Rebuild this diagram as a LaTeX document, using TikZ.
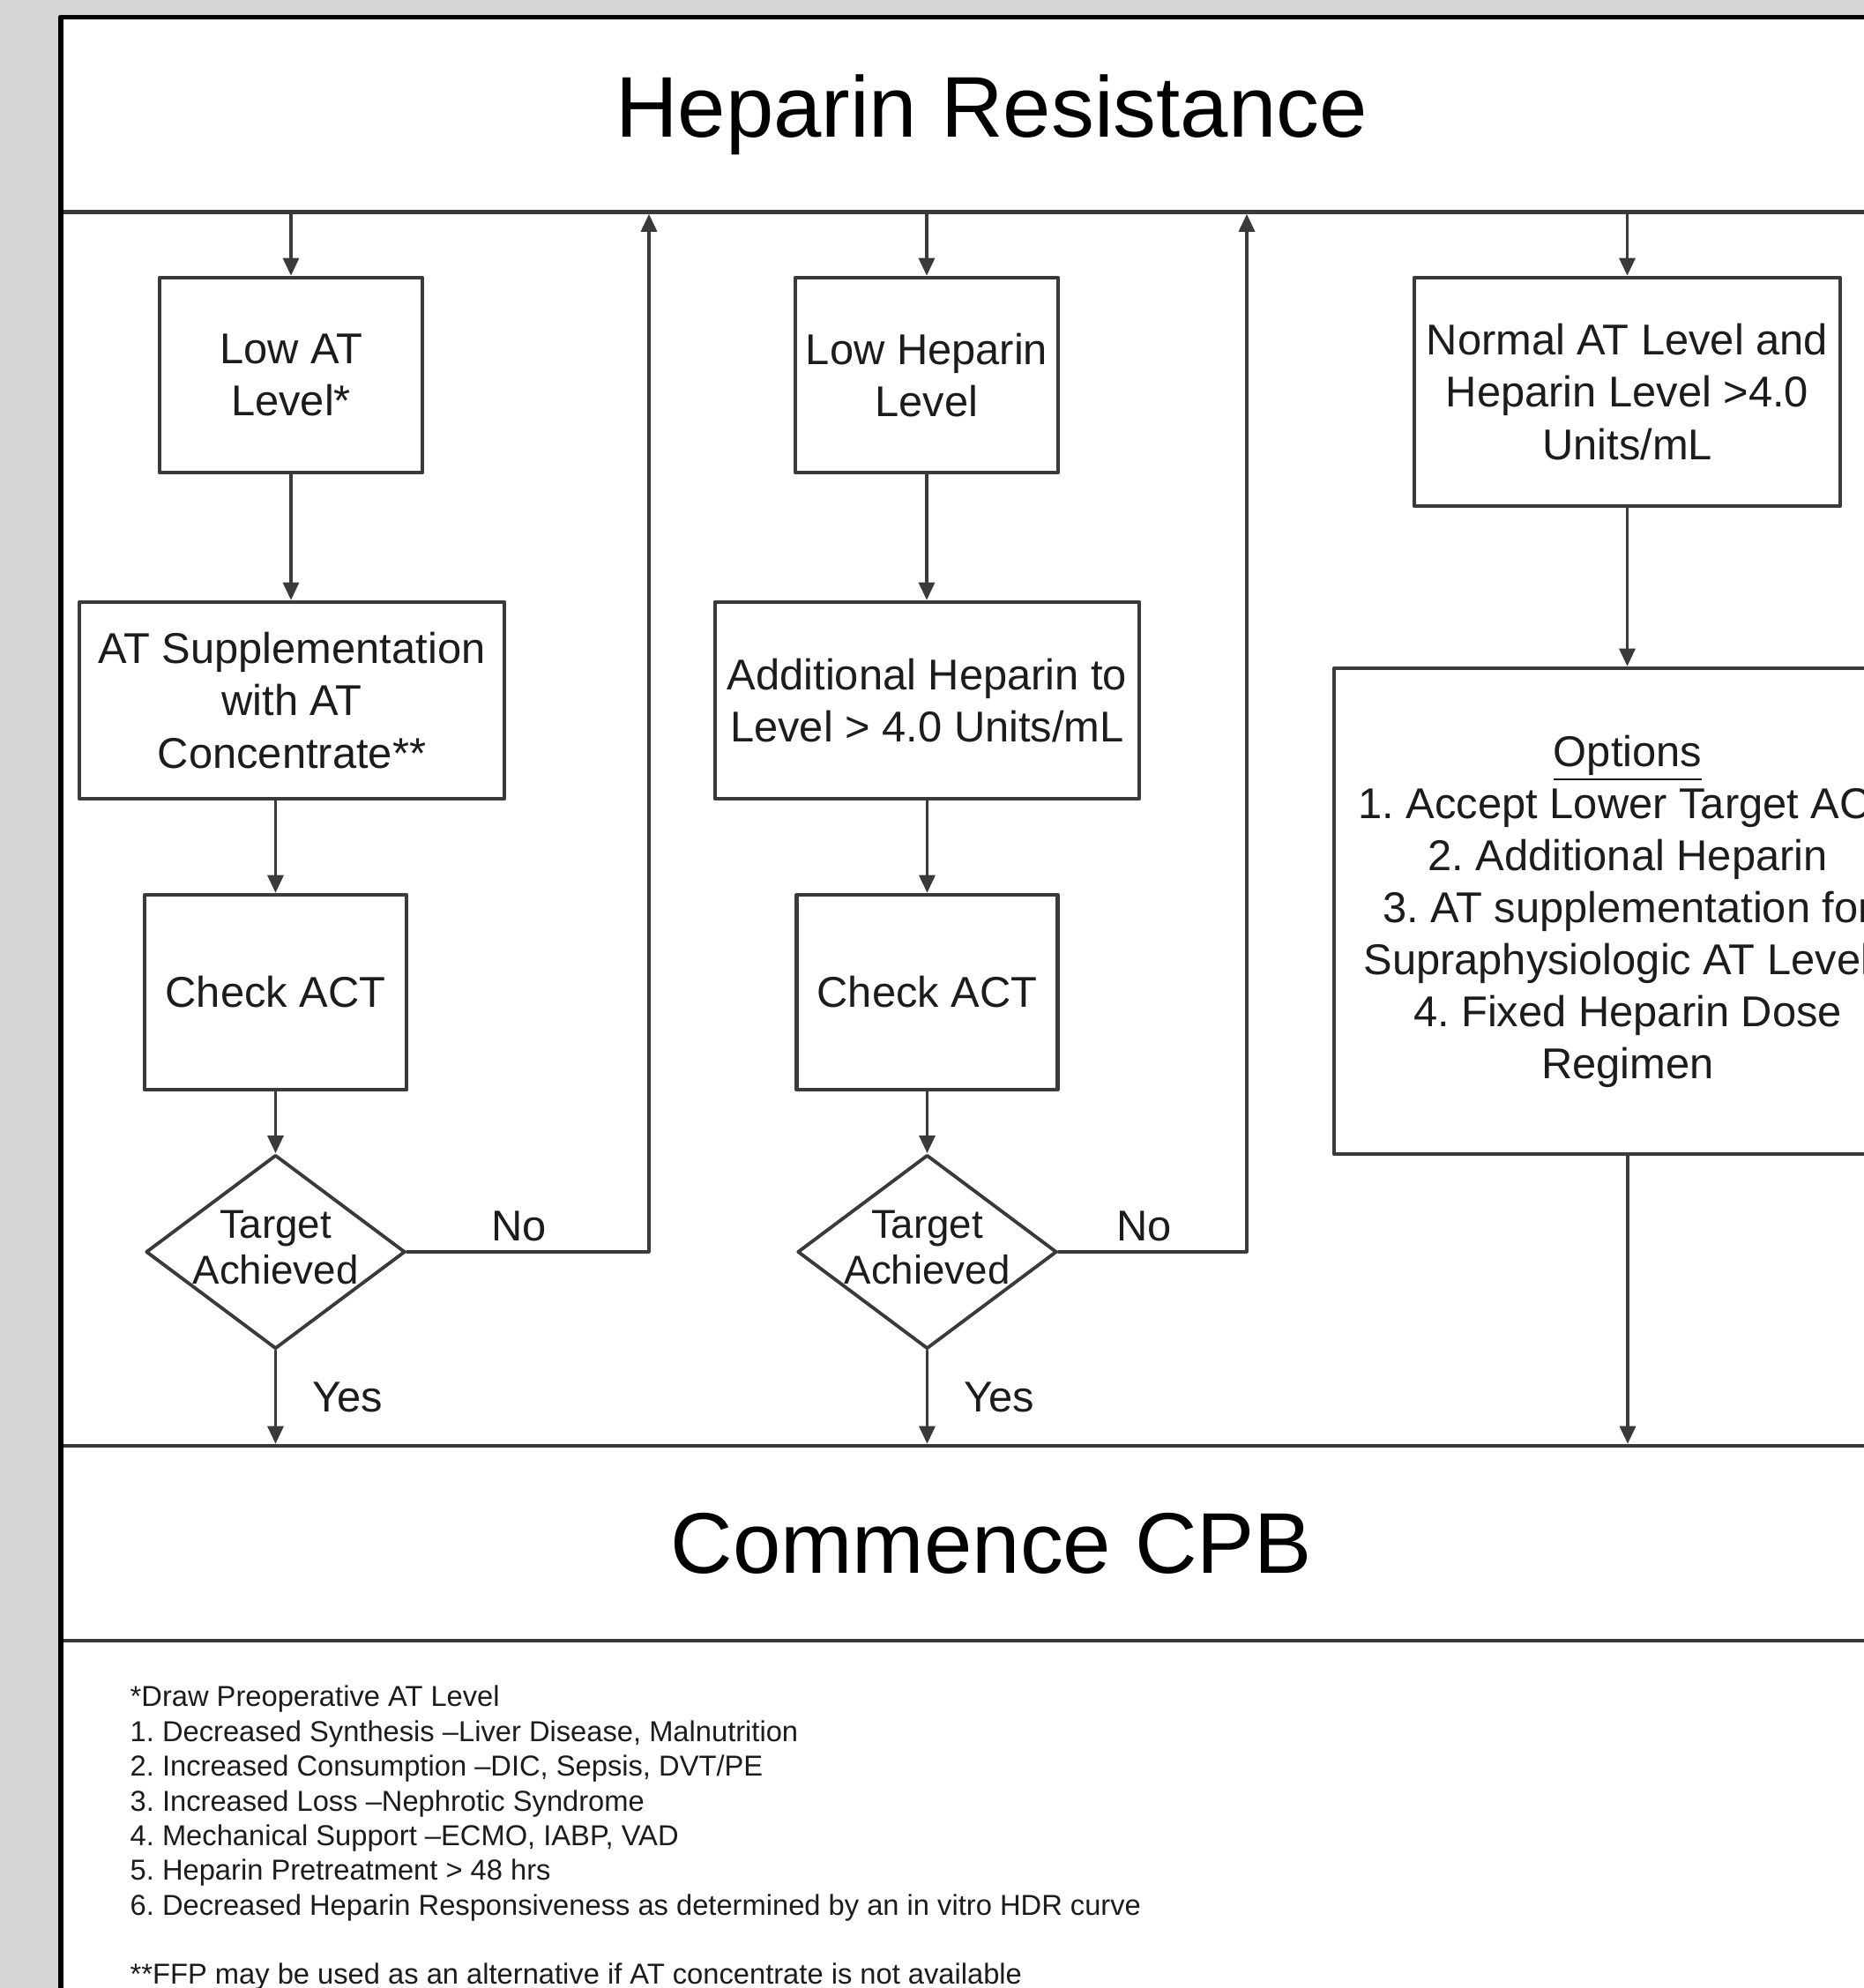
\documentclass[tikz,border=0pt]{standalone}
\usepackage{fontspec}
\setmainfont{Liberation Sans}
\usetikzlibrary{shapes.geometric,arrows.meta,positioning}
\definecolor{bggray}{RGB}{214,214,214}
\definecolor{linegray}{RGB}{58,58,58}
\definecolor{inkgray}{RGB}{28,28,28}
\frenchspacing
\tikzset{
  box/.style={draw=linegray,line width=1.3pt,align=center,inner sep=1pt,text=inkgray,
    font=\fontsize{13.9pt}{16.8pt}\selectfont},
  banner/.style={draw=linegray,line width=1.3pt,minimum width=21.13cm,minimum height=2.21cm,
    text=black,font=\fontsize{27.8pt}{33pt}\selectfont},
  decision/.style={diamond,draw=linegray,line width=1.1pt,inner sep=0pt,
    minimum width=2.94cm,minimum height=2.20cm},
  asktext/.style={align=center,inner sep=0pt,text=inkgray,font=\fontsize{13pt}{14.8pt}\selectfont},
  answer/.style={inner sep=3pt,text=inkgray,font=\fontsize{13.9pt}{16.8pt}\selectfont},
  notes/.style={align=left,inner sep=0pt,text=inkgray,font=\fontsize{9.3pt}{11.2pt}\selectfont},
  link/.style={draw=linegray,line width=0.9pt,->}
}
\begin{document}
\begin{tikzpicture}[line join=round,line cap=round,>={Triangle[length=0.2cm,width=0.18cm]}]
  \useasboundingbox (0,0) rectangle (21.14,-22.55);
  \clip (0,0) rectangle (21.14,-22.55);
  \fill[bggray] (0,0) rectangle (21.14,-22.55);
  \fill[white] (0.69,-0.195) rectangle (21.81,-23);
  \node[banner] (header) at (11.245,-1.30) {Heparin Resistance};
  \node[banner] (cpb) at (11.245,-17.505) {Commence CPB};
  \node[box,minimum width=2.98cm,minimum height=2.21cm] (lowat) at (3.30,-4.255) {Low AT\\Level*};
  \node[box,minimum width=2.98cm,minimum height=2.21cm] (lowhep) at (10.51,-4.255) {Low Heparin\\Level};
  \node[box,minimum width=4.83cm,minimum height=2.59cm] (normal) at (18.455,-4.445)
    {Normal AT Level and\\Heparin Level >4.0\\Units/mL};
  \node[box,minimum width=4.82cm,minimum height=2.23cm] (atsupp) at (3.31,-7.945)
    {AT Supplementation\\with AT\\Concentrate**};
  \node[box,minimum width=4.81cm,minimum height=2.23cm] (addhep) at (10.515,-7.945)
    {Additional Heparin to\\Level > 4.0 Units/mL};
  \node[box,minimum width=2.97cm,minimum height=2.21cm] (check1) at (3.125,-11.255) {Check ACT};
  \node[box,minimum width=2.96cm,minimum height=2.21cm] (check2) at (10.515,-11.255) {Check ACT};
  \node[box,minimum width=6.66cm,minimum height=5.51cm] (options) at (18.46,-10.335)
    {\underline{Options}\\1. Accept Lower Target ACT\\2. Additional Heparin\\3. AT supplementation for\\
     Supraphysiologic AT Levels\\4. Fixed Heparin Dose\\Regimen};
  \node[decision] (dia1) at (3.125,-14.20) {};
  \node[decision] (dia2) at (10.515,-14.20) {};
  \node[asktext] (ask1) at ([yshift=1.5pt]dia1.center) {Target\\Achieved};
  \node[asktext] (ask2) at ([yshift=1.5pt]dia2.center) {Target\\Achieved};
  \coordinate (ret1) at (header.south -| 7.36,0);
  \coordinate (ret2) at (header.south -| 14.14,0);
  \foreach \lvl/\act/\chk/\dia/\ret [count=\i] in {lowat/atsupp/check1/dia1/ret1,lowhep/addhep/check2/dia2/ret2}
  {
    \draw[link] (\lvl.north |- header.south) -- (\lvl.north);
    \draw[link] (\lvl.south) -- (\lvl.south |- \act.north);
    \draw[link] (\chk.north |- \act.south) -- (\chk.north);
    \draw[link] (\chk.south) -- (\dia.north);
    \draw[link] (\dia.east) -| (\ret) node[answer,pos=0.25,above,xshift=-0.1cm] (no\i) {No};
    \draw[link] (\dia.south) -- (\dia.south |- cpb.north) node[answer,midway,right=0.3cm] (yes\i) {Yes};
  }
  \draw[link] (normal.north |- header.south) -- (normal.north);
  \draw[link] (normal.south) -- (normal.south |- options.north);
  \draw[link] (options.south) -- (options.south |- cpb.north);
  \node[notes,anchor=north west] (footnotes) at (1.47,-19.115)
    {*Draw Preoperative AT Level\\
     1. Decreased Synthesis --Liver Disease, Malnutrition\\
     2. Increased Consumption --DIC, Sepsis, DVT/PE\\
     3. Increased Loss --Nephrotic Syndrome\\
     4. Mechanical Support --ECMO, IABP, VAD\\
     5. Heparin Pretreatment > 48 hrs\\
     6. Decreased Heparin Responsiveness as determined by an in vitro HDR curve\\[11.2pt]
     **FFP may be used as an alternative if AT concentrate is not available};
  \draw[black,line width=1.7pt] (0.69,-23) -- (0.69,-0.195) -- (21.81,-0.195);
\end{tikzpicture}
\end{document}
